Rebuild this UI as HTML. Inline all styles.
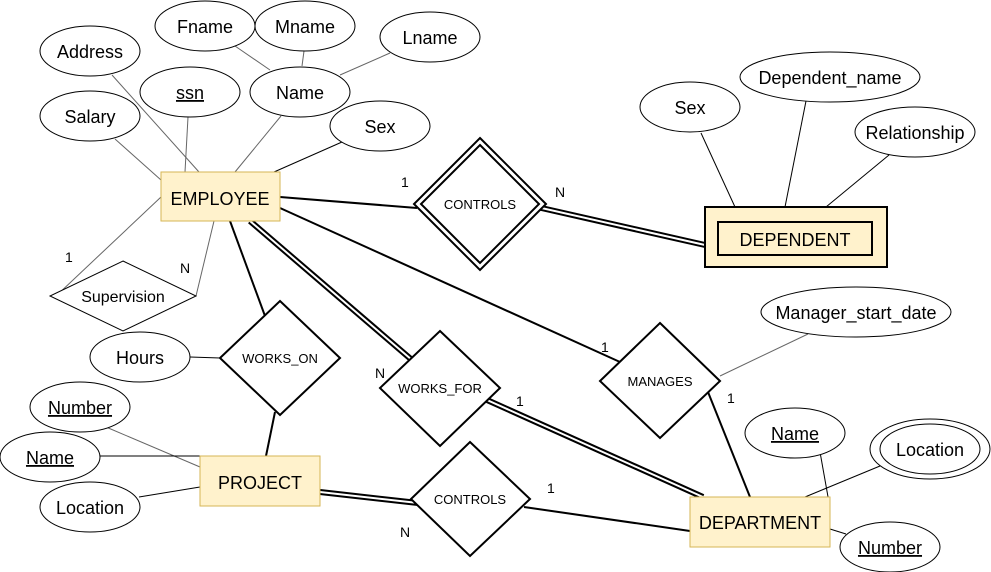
<!DOCTYPE html>
<html><head><meta charset="utf-8"><style>
html,body{margin:0;padding:0;background:#fff;}
svg{display:block;font-family:"Liberation Sans",Arial,sans-serif;}
</style></head><body>
<svg width="991" height="572" viewBox="0 0 991 572" xmlns="http://www.w3.org/2000/svg">
<g stroke="#666" stroke-width="1" fill="none">
<line x1="112" y1="75" x2="199" y2="172"/>
<line x1="188" y1="117" x2="185" y2="172"/>
<line x1="115" y1="139" x2="161" y2="180"/>
<line x1="281" y1="116" x2="235" y2="172"/>
<line x1="235" y1="46" x2="270" y2="70"/>
<line x1="304" y1="51" x2="302" y2="66"/>
<line x1="390" y1="53" x2="340" y2="75"/>
<line x1="161" y1="197" x2="55" y2="297"/>
<line x1="214" y1="221" x2="196" y2="296"/>
<line x1="720" y1="376" x2="808" y2="334"/>
<line x1="106" y1="427" x2="200" y2="467"/>
</g>
<g stroke="#000" stroke-width="1" fill="none">
<line x1="342" y1="142" x2="274" y2="172"/>
<line x1="100" y1="456" x2="200" y2="456"/>
<line x1="139" y1="497" x2="200" y2="487"/>
<line x1="190" y1="357" x2="220" y2="358"/>
<line x1="701" y1="133" x2="735" y2="207"/>
<line x1="806" y1="101" x2="785" y2="207"/>
<line x1="889" y1="155" x2="826" y2="207"/>
<line x1="820" y1="452" x2="830" y2="508"/>
<line x1="805" y1="497" x2="880" y2="466"/>
<line x1="830" y1="529" x2="846" y2="534"/>
</g>
<g stroke="#000" stroke-width="2" fill="none">
<line x1="280" y1="197" x2="417" y2="208"/>
<line x1="280" y1="208" x2="620" y2="362"/>
<line x1="708" y1="392" x2="750" y2="497"/>
<line x1="230" y1="221" x2="265" y2="316"/>
<line x1="275" y1="412" x2="266" y2="456"/>
<line x1="524" y1="507" x2="690" y2="531"/>
</g>
<g stroke="#000" stroke-width="6" fill="none">
<line x1="537" y1="207" x2="705" y2="245"/>
<line x1="250" y1="221" x2="412" y2="360"/>
<line x1="487" y1="400" x2="703" y2="497"/>
<line x1="320" y1="492" x2="418" y2="503"/>
</g>
<g stroke="#fff" stroke-width="2" fill="none">
<line x1="537" y1="207" x2="705" y2="245"/>
<line x1="250" y1="221" x2="412" y2="360"/>
<line x1="487" y1="400" x2="703" y2="497"/>
<line x1="320" y1="492" x2="418" y2="503"/>
</g>
<g fill="#fff" stroke="#000" stroke-width="1">
<ellipse cx="205" cy="26" rx="50" ry="25"/>
<ellipse cx="305" cy="26" rx="50" ry="25"/>
<ellipse cx="430" cy="37" rx="50" ry="25"/>
<ellipse cx="90" cy="51" rx="50" ry="25"/>
<ellipse cx="190" cy="92" rx="50" ry="25"/>
<ellipse cx="300" cy="92" rx="50" ry="25"/>
<ellipse cx="90" cy="116" rx="50" ry="25"/>
<ellipse cx="380" cy="126" rx="50" ry="25"/>
<ellipse cx="690" cy="107" rx="50" ry="25"/>
<ellipse cx="830" cy="77" rx="90" ry="25"/>
<ellipse cx="915" cy="132" rx="60" ry="25"/>
<ellipse cx="140" cy="357" rx="50" ry="25"/>
<ellipse cx="80" cy="407" rx="50" ry="25"/>
<ellipse cx="50" cy="457" rx="50" ry="25"/>
<ellipse cx="90" cy="507" rx="50" ry="25"/>
<ellipse cx="856" cy="312" rx="95" ry="25"/>
<ellipse cx="795" cy="433" rx="50" ry="25"/>
<ellipse cx="930" cy="449" rx="60" ry="30"/>
<ellipse cx="930" cy="449" rx="50" ry="25"/>
<ellipse cx="890" cy="547" rx="50" ry="25"/>
<polygon points="123,261 196,296 123,331 50,296"/>
</g>
<g fill="#fff" stroke="#000" stroke-width="2">
<polygon points="480,138 546,204 480,270 414,204"/>
<polygon points="480,145 539,204 480,263 421,204"/>
<polygon points="280,301 340,358 280,415 220,358"/>
<polygon points="440,331 500,388 440,446 380,388"/>
<polygon points="470,442 530,499 470,556 411,499"/>
<polygon points="660,323 720,381 660,438 600,381"/>
</g>
<g fill="#fff2cc" stroke="#d6b656" stroke-width="1">
<rect x="161" y="172" width="119" height="49"/>
<rect x="200" y="456" width="120" height="50"/>
<rect x="690" y="497" width="140" height="50"/>
</g>
<rect x="705" y="207" width="182" height="60" fill="#fff2cc" stroke="#000" stroke-width="2"/>
<rect x="718" y="222" width="154" height="33" fill="none" stroke="#000" stroke-width="2"/>
<g font-size="18" text-anchor="middle" fill="#000">
<text x="205" y="33">Fname</text>
<text x="305" y="33">Mname</text>
<text x="430" y="44">Lname</text>
<text x="90" y="58">Address</text>
<text x="190" y="99" text-decoration="underline">ssn</text>
<text x="300" y="99">Name</text>
<text x="90" y="123">Salary</text>
<text x="380" y="133">Sex</text>
<text x="690" y="114">Sex</text>
<text x="830" y="84">Dependent_name</text>
<text x="915" y="139">Relationship</text>
<text x="140" y="364">Hours</text>
<text x="80" y="414" text-decoration="underline">Number</text>
<text x="50" y="464" text-decoration="underline">Name</text>
<text x="90" y="514">Location</text>
<text x="856" y="319">Manager_start_date</text>
<text x="795" y="440" text-decoration="underline">Name</text>
<text x="930" y="456">Location</text>
<text x="890" y="554" text-decoration="underline">Number</text>
<text x="220" y="205">EMPLOYEE</text>
<text x="260" y="489">PROJECT</text>
<text x="760" y="529">DEPARTMENT</text>
<text x="795" y="246">DEPENDENT</text>
</g>
<g font-size="13" text-anchor="middle" fill="#000">
<text x="480" y="209">CONTROLS</text>
<text x="280" y="363">WORKS_ON</text>
<text x="440" y="393">WORKS_FOR</text>
<text x="470" y="504">CONTROLS</text>
<text x="660" y="386">MANAGES</text>
</g>
<text x="123" y="302" font-size="16" text-anchor="middle">Supervision</text>
<g font-size="14" fill="#000">
<text x="401" y="187">1</text>
<text x="555" y="197">N</text>
<text x="65" y="262">1</text>
<text x="180" y="273">N</text>
<text x="375" y="378">N</text>
<text x="516" y="406">1</text>
<text x="601" y="352">1</text>
<text x="727" y="403">1</text>
<text x="547" y="493">1</text>
<text x="400" y="537">N</text>
</g>
</svg>
</body></html>
